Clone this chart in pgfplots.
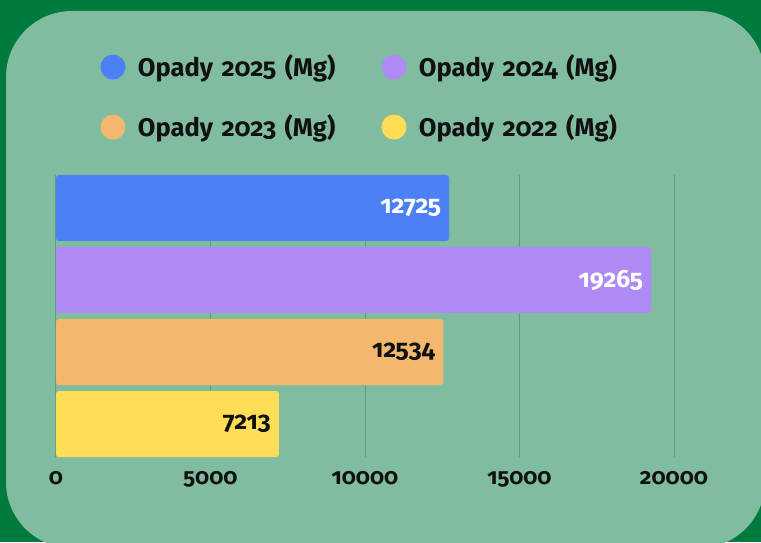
\documentclass[border=0pt]{standalone}
\usepackage{fontspec}
\setmainfont{Fira Sans}[Numbers=OldStyle]
\usepackage{pgfplots}
\pgfplotsset{compat=1.18}
\definecolor{bgdark}{HTML}{007A3D}
\definecolor{bglight}{HTML}{80BC9F}
\definecolor{barblue}{HTML}{4C80F6}
\definecolor{barpurple}{HTML}{AE8BF4}
\definecolor{barorange}{HTML}{F3B86D}
\definecolor{baryellow}{HTML}{FFDD57}
\definecolor{gridcol}{HTML}{63997F}
\definecolor{labelcol}{HTML}{111111}
\pgfplotsset{
  circlegend/.style={legend image code/.code={\fill[##1] (12.5pt,-0.5pt) circle (12.5pt);}},
}
\begin{document}
\begin{tikzpicture}[x=1pt,y=1pt]
\useasboundingbox (0,0) rectangle (761,542);
\fill[bgdark] (0,0) rectangle (761,542);
\begin{scope}
\clip (0,0) rectangle (761,542);
\fill[bglight, rounded corners=66pt] (6,-6) rectangle (765,531);
\end{scope}
\begin{axis}[
  at={(56pt,85pt)}, anchor=south west, scale only axis,
  width=618pt, height=282pt,
  xmin=0, xmax=20000, ymin=-0.4583, ymax=3.4583,
  xbar, bar width=66pt, bar shift=0pt,
  xtick={0,5000,10000,15000,20000}, ytick=\empty,
  scaled x ticks=false,
  /pgf/number format/assume math mode=true,
  /pgf/number format/1000 sep={},
  xticklabel style={font=\bfseries\fontsize{22.5}{22.5}\selectfont, text=labelcol, yshift=-11pt},
  axis line style={draw=none}, major tick length=0pt,
  xmajorgrids, grid style={gridcol, line width=1pt},
  nodes near coords,
  every node near coord/.append style={anchor=east, inner sep=0pt, xshift=-8pt, font=\bfseries\fontsize{25}{25}\selectfont},
  legend columns=2,
  legend style={at={(axis description cs:0.072,1.427)}, anchor=north west,
    draw=none, fill=none, inner sep=0pt, outer sep=0pt,
    font=\bfseries\fontsize{25.5}{25.5}\selectfont, text=labelcol,
    row sep=35pt,
    nodes={inner sep=0pt, text width=230pt, align=left},
    /tikz/every odd column/.append style={column sep=12.5pt},
    /tikz/every even column/.append style={column sep=13.5pt}},
]
\addplot[draw=none, fill=barblue, rounded corners=3pt, circlegend,
  every node near coord/.append style={text=white}] coordinates {(12725,3)};
\addlegendentry{Opady 2025 (Mg)}
\addplot[draw=none, fill=barpurple, rounded corners=3pt, circlegend,
  every node near coord/.append style={text=white}] coordinates {(19265,2)};
\addlegendentry{Opady 2024 (Mg)}
\addplot[draw=none, fill=barorange, rounded corners=3pt, circlegend,
  every node near coord/.append style={text=labelcol}] coordinates {(12534,1)};
\addlegendentry{Opady 2023 (Mg)}
\addplot[draw=none, fill=baryellow, rounded corners=3pt, circlegend,
  every node near coord/.append style={text=labelcol}] coordinates {(7213,0)};
\addlegendentry{Opady 2022 (Mg)}
\end{axis}
\end{tikzpicture}
\end{document}
